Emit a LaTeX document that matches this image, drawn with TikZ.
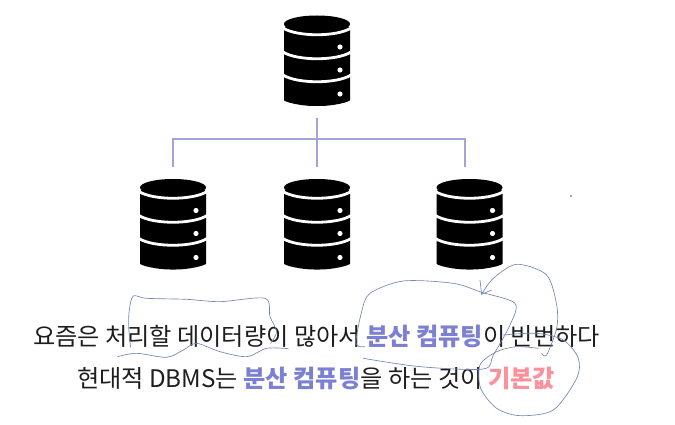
\documentclass[tikz,border=0pt]{standalone}
\usepackage{fontspec}
\setmainfont{Noto Sans CJK KR}
\definecolor{conn}{HTML}{A0A4D6}
\definecolor{ink}{HTML}{7486AC}
\definecolor{hl}{HTML}{7C80D2}
\definecolor{hp}{HTML}{FF8F9B}
\definecolor{tx}{HTML}{1E1E1E}
\tikzset{
  dbnode/.style={minimum width=66pt,minimum height=90pt,inner sep=0pt,outer sep=0pt},
  conline/.style={draw=conn,line width=1.2pt},
  pen/.style={draw=ink,line width=0.65pt,line cap=round,line join=round},
  txt/.style={inner sep=0pt,outer sep=0pt,text=tx,font=\fontsize{24.2}{28}\selectfont,anchor=base},
  pics/dbicon/.style={code={
    \fill[black,rounded corners=3pt] (-33,-35) -- (-33,36) .. controls (-33,41) and (-16,45) .. (0,45) .. controls (16,45) and (33,41) .. (33,36) -- (33,-35) -- cycle;
    \fill[black] (0,-37) ellipse [x radius=33,y radius=8.5];
    \foreach \yy in {-33,-9,14}{
      \draw[white,line width=2.8pt] (-34,\yy) .. controls (-20,\yy+9) and (20,\yy+9) .. (34,\yy);
    }
    \foreach \yy in {-14,9,33}{
      \fill[white] (23,\yy) circle [radius=2.6];
    }
  }}
}
\begin{document}
\begin{tikzpicture}[x=1pt,y=-1pt]
\useasboundingbox (0,0) rectangle (675,425);
\fill[white] (0,0) rectangle (675,425);
\node[dbnode] (dbTop) at (317,61) {};
\node[dbnode] (dbL) at (173,224.5) {};
\node[dbnode] (dbM) at (317,224.5) {};
\node[dbnode] (dbR) at (469.5,224.5) {};
\foreach \n in {dbTop,dbL,dbM,dbR}{\pic at (\n) {dbicon};}
\coordinate (trunkTop) at (317,118);
\coordinate (hubL) at (173,139);
\coordinate (hubR) at (465,139);
\coordinate (hubM) at (317,139);
\coordinate (endL) at (173,167);
\coordinate (endM) at (317,167);
\coordinate (endR) at (465,167);
\draw[conline] (trunkTop) -- (hubM) -- (endM);
\draw[conline] (endL) -- (hubL) -- (hubR) -- (endR);
\node[txt] (line1) at (316.5,345) {요즘은 처리할 데이터량이 많아서 {\bfseries\color{hl}분산 컴퓨팅}이 빈번하다};
\node[txt] (line2) at (316,387) {현대적 DBMS는 {\bfseries\color{hl}분산 컴퓨팅}을 하는 것이 {\bfseries\color{hp}기본값}};
\fill[ink] (571,196) circle [radius=1.2];
\begin{scope}[shift={(20,260)},x=0.3333pt,y=-0.3333pt]
\draw[pen] plot[smooth,tension=.5] coordinates {(332,262) (326,200) (328,150) (340,108) (380,115) (500,118) (600,125) (735,115) (750,170) (770,215) (752,250)};
\draw[pen] plot[smooth,tension=.5] coordinates {(293,290) (350,280) (440,292) (490,270) (530,250) (600,275) (680,290) (740,265) (805,266)};
\end{scope}
\begin{scope}[shift={(320,255)},x=0.3333pt,y=-0.3333pt]
\draw[pen] plot[smooth,tension=.5] coordinates {(135,275) (108,265) (125,170) (150,115) (250,78) (400,85) (485,112) (585,145) (570,210) (520,300) (490,342) (300,335) (130,310)};
\draw[pen] (480,75) -- (485,118) -- (515,105);
\draw[pen] plot[smooth,tension=.5] coordinates {(485,118) (520,70) (590,28) (680,60) (710,150) (710,220) (680,300) (665,295)};
\draw[pen] plot[smooth,tension=.5] coordinates {(655,280) (590,275) (530,290) (480,330) (482,400) (530,460) (600,482) (700,465) (770,370) (775,310) (730,255) (650,235) (550,240)};
\end{scope}
\end{tikzpicture}
\end{document}
